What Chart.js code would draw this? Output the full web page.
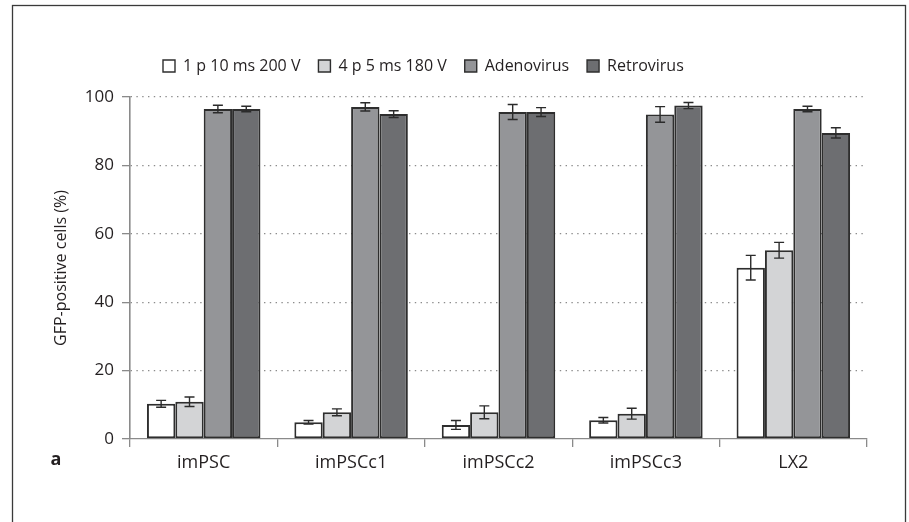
<!DOCTYPE html>
<html>
<head>
<meta charset="utf-8">
<script src="https://cdn.jsdelivr.net/npm/chart.js@4"></script>
<style>
  html, body { margin: 0; padding: 0; background: #fff; }
  #wrap { width: 909px; height: 522px; position: relative; }
</style>
</head>
<body>
<div id="wrap"><canvas id="chart" width="909" height="522"></canvas></div>
<script>
// Cell lines on the x axis
const categories = ['imPSC', 'imPSCc1', 'imPSCc2', 'imPSCc3', 'LX2'];

// Transduction / transfection method names
const seriesNames = ['1 p 10 ms 200 V', '4 p 5 ms 180 V', 'Adenovirus', 'Retrovirus'];

// Mean GFP-positive cells (%) per method
const pulse1Mean = [10.3, 4.9, 4.1, 5.5, 50.1];
const pulse4Mean = [10.9, 7.8, 7.8, 7.4, 55.2];
const adenoMean  = [96.5, 97.1, 95.6, 94.9, 96.5];
const retroMean  = [96.5, 95.0, 95.6, 97.5, 89.5];

// Standard deviations
const pulse1Sd = [1.0, 0.5, 1.3, 0.8, 3.6];
const pulse4Sd = [1.4, 1.0, 1.9, 1.6, 2.3];
const adenoSd  = [1.1, 1.2, 2.2, 2.3, 0.8];
const retroSd  = [0.8, 1.0, 1.3, 0.9, 1.5];

// Y axis ticks
const yTicks = [0, 20, 40, 60, 80, 100];

const fills = ['#ffffff', '#d3d4d6', '#949598', '#6d6e71'];
const means = [pulse1Mean, pulse4Mean, adenoMean, retroMean];
const sds = [pulse1Sd, pulse4Sd, adenoSd, retroSd];

const FONT = "'Open Sans', 'DejaVu Sans', sans-serif";
const INK = '#231f20';
const AXIS = '#8a8a8a';
const LEGEND_PAD = 18;
const LEGEND_X = 163;

// Error bars (mean ± SD) drawn on top of each bar
const errorBars = {
  id: 'errorBars',
  afterDatasetsDraw(chart) {
    const ctx = chart.ctx;
    const y = chart.scales.y;
    ctx.save();
    ctx.strokeStyle = '#2b2b2b';
    ctx.lineWidth = 1.4;
    chart.data.datasets.forEach((ds, i) => {
      const meta = chart.getDatasetMeta(i);
      meta.data.forEach((bar, j) => {
        const m = ds.data[j], s = ds.sd[j];
        const yHi = y.getPixelForValue(m + s);
        const yLo = y.getPixelForValue(m - s);
        const x = bar.x, cap = 5;
        ctx.beginPath();
        ctx.moveTo(x, yHi); ctx.lineTo(x, yLo);
        ctx.moveTo(x - cap, yHi); ctx.lineTo(x + cap, yHi);
        ctx.moveTo(x - cap, yLo); ctx.lineTo(x + cap, yLo);
        ctx.stroke();
      });
    });
    ctx.restore();
  }
};

// Outer frame and panel letter
const panelDecor = {
  id: 'panelDecor',
  afterDraw(chart) {
    const ctx = chart.ctx;
    ctx.save();
    ctx.strokeStyle = '#3a3a3a';
    ctx.lineWidth = 1.3;
    ctx.strokeRect(12.5, 5.5, 893, 600);
    ctx.fillStyle = INK;
    ctx.font = "bold 18px " + FONT;
    ctx.textAlign = 'center';
    ctx.textBaseline = 'alphabetic';
    ctx.fillText('a', 56, 465);
    ctx.restore();
  }
};

// Fixed legend band height and left start
const legendBand = {
  id: 'legendBand',
  beforeInit(chart) {
    const lg = chart.legend;
    if (!lg) return;
    const fit = lg.fit;
    lg.fit = function () { fit.call(this); this.height = 57; };
  },
  afterLayout(chart) {
    const lg = chart.legend;
    if (!lg) return;
    const shift = LEGEND_X - LEGEND_PAD - lg.left;
    lg.left += shift;
    lg.right += shift;
  }
};

const datasets = seriesNames.map((name, i) => ({
  label: name,
  data: means[i],
  sd: sds[i],
  backgroundColor: fills[i],
  borderColor: '#2e2e2e',
  borderWidth: 2,
  borderSkipped: false,
  categoryPercentage: 0.77,
  barPercentage: 1.0
}));

new Chart(document.getElementById('chart'), {
  type: 'bar',
  data: { labels: categories, datasets },
  options: {
    responsive: false,
    animation: false,
    layout: { padding: { top: 40, right: 42, bottom: 0, left: 0 } },
    plugins: {
      tooltip: { enabled: false },
      legend: {
        position: 'top',
        align: 'start',
        labels: {
          boxWidth: 12,
          boxHeight: 12,
          padding: LEGEND_PAD,
          color: INK,
          font: { family: FONT, size: 16 },
          generateLabels(chart) {
            const base = Chart.defaults.plugins.legend.labels.generateLabels(chart);
            return base.map(l => Object.assign(l, { lineWidth: 1.4 }));
          }
        }
      }
    },
    scales: {
      x: {
        offset: true,
        grid: {
          display: true,
          offset: true,
          drawOnChartArea: false,
          drawTicks: true,
          tickLength: 8,
          color: AXIS,
          lineWidth: 1.3
        },
        border: { display: true, color: AXIS, width: 1.3 },
        ticks: {
          color: INK,
          padding: 5,
          font: { family: FONT, size: 18 }
        },
        afterFit(scale) { scale.height = 83; }
      },
      y: {
        min: 0,
        max: 100,
        afterBuildTicks(scale) { scale.ticks = yTicks.map(v => ({ value: v })); },
        grid: {
          drawTicks: true,
          tickLength: 8,
          color: ctx => (ctx.tick && ctx.tick.value === 0) ? 'rgba(0,0,0,0)' : '#8c8c8c',
          tickColor: AXIS,
          lineWidth: 1.3,
          tickWidth: 1.3
        },
        border: { display: true, color: AXIS, width: 1.6, dash: [1.4, 4.4] },
        ticks: {
          color: INK,
          padding: 8,
          font: { family: FONT, size: 17 }
        },
        title: {
          display: true,
          text: 'GFP-positive cells (%)',
          color: INK,
          font: { family: FONT, size: 16 },
          padding: { top: 52, bottom: 0 }
        },
        afterFit(scale) { scale.width = 130; }
      }
    }
  },
  plugins: [errorBars, panelDecor, legendBand]
});
</script>
</body>
</html>
